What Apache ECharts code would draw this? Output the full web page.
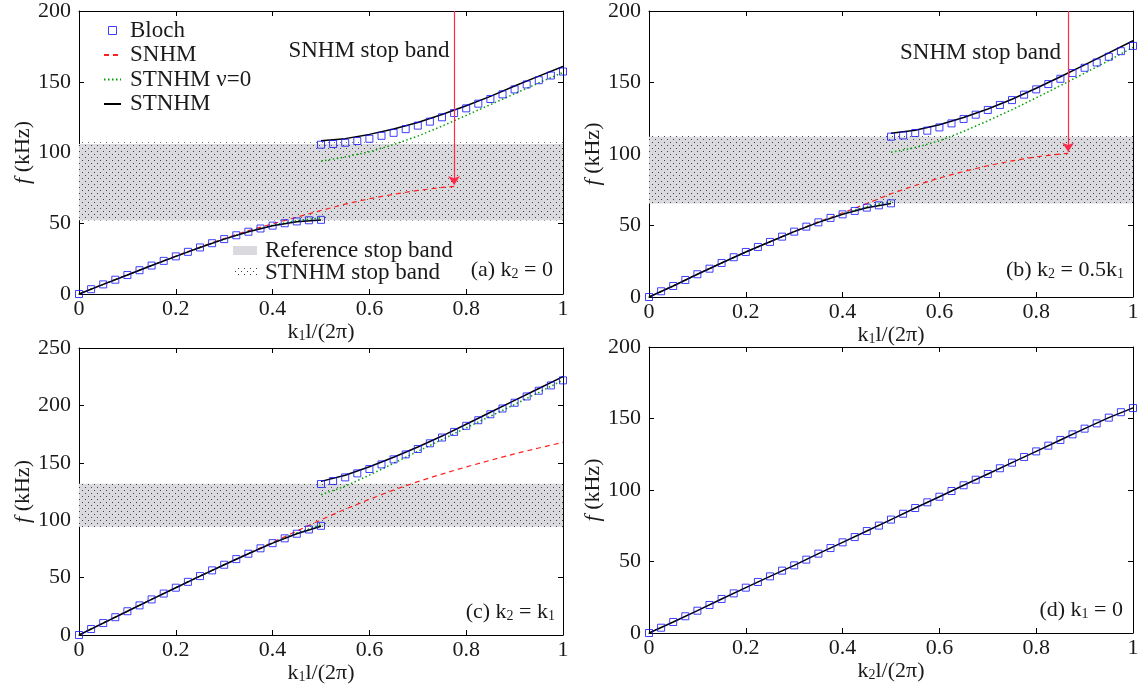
<!DOCTYPE html>
<html><head><meta charset="utf-8">
<script src="https://cdn.jsdelivr.net/npm/echarts@6/dist/echarts.min.js"></script>
<style>html,body{margin:0;padding:0;background:#fff}#c{width:1148px;height:686px}</style>
</head><body><div id="c"></div>
<script>
// ---------------- DATA ----------------
const kLow  = [0,0.025,0.05,0.075,0.1,0.125,0.15,0.175,0.2,0.225,0.25,0.275,0.3,0.325,0.35,0.375,0.4,0.425,0.45,0.475,0.5];
const kHigh = [0.5,0.525,0.55,0.575,0.6,0.625,0.65,0.675,0.7,0.725,0.75,0.775,0.8,0.825,0.85,0.875,0.9,0.925,0.95,0.975,1];
const kFull = kLow.concat(kHigh.slice(1));
const kLineLow  = [0,0.05,0.1,0.15,0.2,0.25,0.3,0.35,0.4,0.45,0.5];
const kLineHigh = [0.5,0.55,0.6,0.65,0.7,0.75,0.8,0.85,0.9,0.95,1];
const kLineFull = kLineLow.concat(kLineHigh.slice(1));

// (a) k2 = 0
const blochA_low  = [0,3.4,6.8,10.1,13.4,16.8,20.1,23.4,26.6,29.8,32.9,35.9,38.8,41.5,44.0,46.3,48.3,50.0,51.3,52.1,52.4];
const blochA_high = [105.5,106,106.9,108.1,109.7,111.8,113.9,116.5,119,121.8,124.9,127.9,131.2,134.5,137.8,141.1,144.6,148.1,151.1,154.4,157.2];
const stnhmA_low  = [0,6.8,13.4,20.1,26.6,32.9,38.8,44.0,48.2,51.1,52.3];
const stnhmA_high = [108.3,109.8,112.8,116.6,121.2,126.8,133,139.7,147,154,160.8];
const nu0A_low    = [0,6.8,13.4,20.1,26.6,32.9,38.8,44.1,48.6,51.8,53.8];
const nu0A_high   = [93.8,96.9,100.5,105.6,111.6,118.6,126.2,133.8,141.5,149.2,156.6];
const snhmA_k     = [0,0.05,0.1,0.15,0.2,0.25,0.3,0.35,0.4,0.45,0.5,0.55,0.6,0.65,0.7,0.75,0.775];
const snhmA       = [0,6.9,13.5,20.3,26.8,33.2,39.2,44.8,49.6,54.3,59,63.5,67.3,70.5,73.2,75.3,76];
const bandA_ref   = [52.2,106];
const bandA_st    = [52,107.2];
const arrowA      = [0.775,200,77];

// (b) k2 = 0.5k1
const blochB_low  = [0,4.0,7.7,11.9,15.9,19.8,23.8,27.8,31.5,35,38.5,42.2,45.7,49.2,52.2,55.3,57.8,60.2,62.5,64.1,65.5];
const blochB_high = [112.1,113,114.7,116.3,118.6,121.4,124.5,127.5,130.8,134.3,137.7,141.5,145.2,148.9,152.6,156.6,160.3,164,168,171.9,175.6];
const stnhmB_low  = [0,7.7,15.9,23.8,31.5,38.6,45.7,52.2,57.8,62.4,65.4];
const stnhmB_high = [114.5,116.6,120.5,125.5,131.5,138.3,146,154,162.3,170.7,179.2];
const nu0B_low    = [0,7.7,15.9,23.8,31.5,38.6,45.7,52.3,58.2,63.2,66.8];
const nu0B_high   = [101.2,104.5,109.2,115.8,123.2,131,139.3,147.8,156.5,165.4,174.6];
const snhmB_k     = [0,0.05,0.1,0.15,0.2,0.25,0.3,0.35,0.4,0.45,0.5,0.55,0.6,0.65,0.7,0.75,0.8,0.85,0.866];
const snhmB       = [0,7.9,16,23.9,31.6,38.7,45.9,52.6,58.8,65.3,72.2,78,83.2,87.8,91.8,95.2,98,100,100.5];
const bandB_ref   = [65.3,112];
const bandB_st    = [65,113.3];
const arrowB      = [0.866,200,101.5];

// (c) k2 = k1
const blochC_low  = [0,5.2,10.4,15.5,20.7,25.8,31,36.1,41.2,46.3,51.3,56.3,61.2,66.1,70.8,75.5,80,84.2,88.2,91.9,95.1];
const blochC_high = [131.5,134.1,137.3,140.8,144.6,148.6,153,157.3,162,167,172,176.9,182.2,187.1,192.3,197.3,202.3,207.8,212.8,217.4,221.8];
const stnhmC_low  = [0,10.4,20.7,31,41.2,51.3,61.2,70.8,80,88.2,94.8];
const stnhmC_high = [133.8,139.2,146.6,154.8,163.8,173.3,183.6,194,204.4,214.7,225];
const nu0C_low    = [0,10.4,20.7,31,41.2,51.3,61.2,70.9,80.3,88.8,96];
const nu0C_high   = [122.1,129.6,139.2,149.6,160,170.2,180.4,190.6,200.8,211.3,222];
const snhmC       = [0,10.4,20.8,31.1,41.3,51.4,61.3,71.1,80.8,90.5,100.3,109.6,118.2,126.3,133.6,140.2,146.4,152.2,157.8,162.9,167.8];
const bandC_ref   = [94.3,131.7];
const bandC_st    = [93.6,133];

// (d) k1 = 0
const blochD = [0,3.7,7.7,11.7,15.6,19.6,23.8,27.7,31.7,35.7,39.6,43.6,47.3,51.3,55.5,59.4,63.4,67.1,71.3,75.1,79.3,83.4,87.4,91.4,95.3,99.3,103.3,107.2,111.2,115.2,119.1,123.1,127,131,135,138.9,142.9,146.6,150.6,154.4,157.3];
const stnhmD = [0,7.7,15.6,23.8,31.7,39.6,47.3,55.5,63.4,71.3,79.3,87.4,95.3,103.3,111.2,119.1,127,135,142.9,150.6,157.4];

const xTicks = {min:0, max:1, interval:0.2};
const yMax = [200,200,250,200];
const yInterval = 50;

// ---------------- STYLE ----------------
const FONT = '"Liberation Serif","Times New Roman",serif';
const TXT = '#1a1a1a';
const BLUE = '#1010ff', RED = '#ff2020', GREEN = '#00a000', ARROW = '#ff2a4a';
const GRAY = '#dadade';

function dotPattern(){
  const c = document.createElement('canvas'); c.width = 6; c.height = 6;
  const ctx = c.getContext('2d'); ctx.fillStyle = '#404040';
  ctx.fillRect(1,1,1,1); ctx.fillRect(4,4,1,1);
  return c;
}
const PATTERN = {image: dotPattern(), repeat: 'repeat'};

const zip = (k, v) => k.map((x, i) => [x, v[i]]);

const grids = [
  {left:79, top:9, width:484, height:285},
  {left:649, top:10, width:484, height:287},
  {left:79, top:348, width:484, height:287},
  {left:649, top:347, width:484, height:286}
];

const richAxis = {
  m:{fontFamily:FONT, fontSize:22, color:TXT, lineHeight:26, verticalAlign:'bottom'},
  s:{fontFamily:FONT, fontSize:14, color:TXT, lineHeight:9, verticalAlign:'bottom'},
  i:{fontFamily:FONT, fontSize:22, color:TXT, fontStyle:'italic', lineHeight:26, verticalAlign:'bottom'}
};
const xNames = ['{m|k}{s|1}{m|l/(2π)}','{m|k}{s|1}{m|l/(2π)}','{m|k}{s|1}{m|l/(2π)}','{m|k}{s|2}{m|l/(2π)}'];

const xAxis = [], yAxis = [];
grids.forEach((g, i) => {
  const base = {gridIndex:i, type:'value', min:xTicks.min, max:xTicks.max, interval:xTicks.interval,
    splitLine:{show:false},
    axisLine:{show:true, onZero:false, lineStyle:{color:'#000', width:1}},
    axisTick:{show:true, inside:true, length:5, lineStyle:{color:'#000', width:1}}};
  xAxis.push(Object.assign({}, base, {position:'bottom',
    axisLabel:{fontFamily:FONT, fontSize:22, color:TXT, margin:4},
    name:xNames[i], nameLocation:'middle', nameGap:18, nameTextStyle:{rich:richAxis}}));
  xAxis.push(Object.assign({}, base, {position:'top', axisLabel:{show:false}}));
  const yb = {gridIndex:i, type:'value', min:0, max:yMax[i], interval:yInterval,
    splitLine:{show:false},
    axisLine:{show:true, onZero:false, lineStyle:{color:'#000', width:1}},
    axisTick:{show:true, inside:true, length:5, lineStyle:{color:'#000', width:1}}};
  yAxis.push(Object.assign({}, yb, {position:'left',
    axisLabel:{fontFamily:FONT, fontSize:22, color:TXT, margin:8},
    name:'{i|f}{m| (kHz)}', nameLocation:'middle', nameGap:45, nameTextStyle:{rich:richAxis}}));
  yAxis.push(Object.assign({}, yb, {position:'right', axisLabel:{show:false}}));
});

const panels = [
  {bl:blochA_low, bh:blochA_high, sl:stnhmA_low, sh:stnhmA_high, nl:nu0A_low, nh:nu0A_high, snk:snhmA_k, sn:snhmA, ref:bandA_ref, st:bandA_st, arrow:arrowA, label:[0.599,172]},
  {bl:blochB_low, bh:blochB_high, sl:stnhmB_low, sh:stnhmB_high, nl:nu0B_low, nh:nu0B_high, snk:snhmB_k, sn:snhmB, ref:bandB_ref, st:bandB_st, arrow:arrowB, label:[0.685,171]},
  {bl:blochC_low, bh:blochC_high, sl:stnhmC_low, sh:stnhmC_high, nl:nu0C_low, nh:nu0C_high, snk:kLineFull, sn:snhmC, ref:bandC_ref, st:bandC_st}
];

const blochStyle = {color:'rgba(0,0,0,0)', borderColor:BLUE, borderWidth:1};
const series = [];
panels.forEach((p, i) => {
  const ax = {xAxisIndex:2*i, yAxisIndex:2*i};
  series.push(Object.assign({type:'line', name:'band', data:[], z:0, silent:true,
    markArea:{silent:true, data:[
      [{yAxis:p.ref[0], itemStyle:{color:GRAY}}, {yAxis:p.ref[1]}],
      [{yAxis:p.st[0], itemStyle:{color:PATTERN}}, {yAxis:p.st[1]}]
    ]}}, ax));
  const sn = Object.assign({type:'line', name:'SNHM', data:zip(p.snk, p.sn), symbol:'none', z:2,
    lineStyle:{color:RED, width:1.2, type:[5,4]}, itemStyle:{color:RED}}, ax);
  if (p.arrow) {
    sn.markLine = {silent:true, symbol:['none','arrow'], symbolSize:9, label:{show:false},
      lineStyle:{color:ARROW, width:1.2, type:'solid'}, itemStyle:{color:ARROW},
      data:[[{coord:[p.arrow[0], p.arrow[1]]}, {coord:[p.arrow[0], p.arrow[2]]}]]};
    sn.markPoint = {silent:true, symbol:'rect', symbolSize:0,
      label:{show:true, position:'inside', formatter:'SNHM stop band', fontFamily:FONT, fontSize:23, color:TXT},
      data:[{coord:p.label}]};
  }
  series.push(sn);
  [[p.nl, kLineLow], [p.nh, kLineHigh]].forEach(([v, k]) => series.push(Object.assign({type:'line', name:'STNHM ν=0',
    data:zip(k, v), symbol:'none', z:3, lineStyle:{color:GREEN, width:1.5, type:[1.5,2.5]}, itemStyle:{color:GREEN}}, ax)));
  [[p.sl, kLineLow], [p.sh, kLineHigh]].forEach(([v, k]) => series.push(Object.assign({type:'line', name:'STNHM',
    data:zip(k, v), symbol:'none', z:3, lineStyle:{color:'#000', width:1.5, type:'solid'}, itemStyle:{color:'#000'}}, ax)));
  series.push(Object.assign({type:'scatter', name:'Bloch', data:zip(kLow, p.bl).concat(zip(kHigh, p.bh)),
    symbol:'rect', symbolSize:7, z:4, itemStyle:blochStyle}, ax));
});
// panel (d)
series.push({type:'line', name:'STNHM', xAxisIndex:6, yAxisIndex:6, data:zip(kLineFull, stnhmD), symbol:'none', z:3,
  lineStyle:{color:'#000', width:1.5}, itemStyle:{color:'#000'}});
series.push({type:'scatter', name:'Bloch', xAxisIndex:6, yAxisIndex:6, data:zip(kFull, blochD), symbol:'rect', symbolSize:7, z:4,
  itemStyle:blochStyle});

const richLbl = {
  m:{fontFamily:FONT, fontSize:22, fill:TXT, lineHeight:26, verticalAlign:'bottom'},
  s:{fontFamily:FONT, fontSize:14, fill:TXT, lineHeight:9, verticalAlign:'bottom'}
};
function panelLabel(txt, x, y){
  return {type:'text', x:x, y:y, silent:true, style:{text:txt, rich:richLbl, align:'right', verticalAlign:'middle'}};
}
const textStyleLeg = {fontFamily:FONT, fontSize:23, fill:TXT};
const hideSym = {color:'rgba(0,0,0,0)', borderWidth:0};

const option = {
  animation:false,
  backgroundColor:'#fff',
  grid:grids,
  xAxis:xAxis,
  yAxis:yAxis,
  legend:{left:98, top:14, orient:'vertical', itemWidth:17, itemHeight:8, itemGap:1.5, selectedMode:false,
    textStyle:{fontFamily:FONT, fontSize:23, color:TXT, lineHeight:23, padding:[0,0,0,4]},
    data:[{name:'Bloch', icon:'path://M0,0H8V8H0Z', itemStyle:{color:'rgba(0,0,0,0)', borderColor:BLUE, borderWidth:1}},
          {name:'SNHM', itemStyle:hideSym},
          {name:'STNHM ν=0', itemStyle:hideSym},
          {name:'STNHM', itemStyle:hideSym}]},
  series:series,
  graphic:[
    {type:'rect', shape:{x:233, y:246, width:24, height:9}, style:{fill:GRAY}, silent:true},
    {type:'text', x:265, y:251, silent:true, style:Object.assign({text:'Reference stop band', align:'left', verticalAlign:'middle'}, textStyleLeg)},
    {type:'rect', shape:{x:233, y:268, width:24, height:9}, style:{fill:PATTERN}, silent:true},
    {type:'text', x:265, y:273, silent:true, style:Object.assign({text:'STNHM stop band', align:'left', verticalAlign:'middle'}, textStyleLeg)},
    panelLabel('{m|(a) k}{s|2}{m| = 0}', 553, 268),
    panelLabel('{m|(b) k}{s|2}{m| = 0.5k}{s|1}', 1124, 268),
    panelLabel('{m|(c) k}{s|2}{m| = k}{s|1}', 555, 610),
    panelLabel('{m|(d) k}{s|1}{m| = 0}', 1123, 608)
  ]
};
const chart = echarts.init(document.getElementById('c'), null, {renderer:'canvas'});
chart.setOption(option);
</script></body></html>
